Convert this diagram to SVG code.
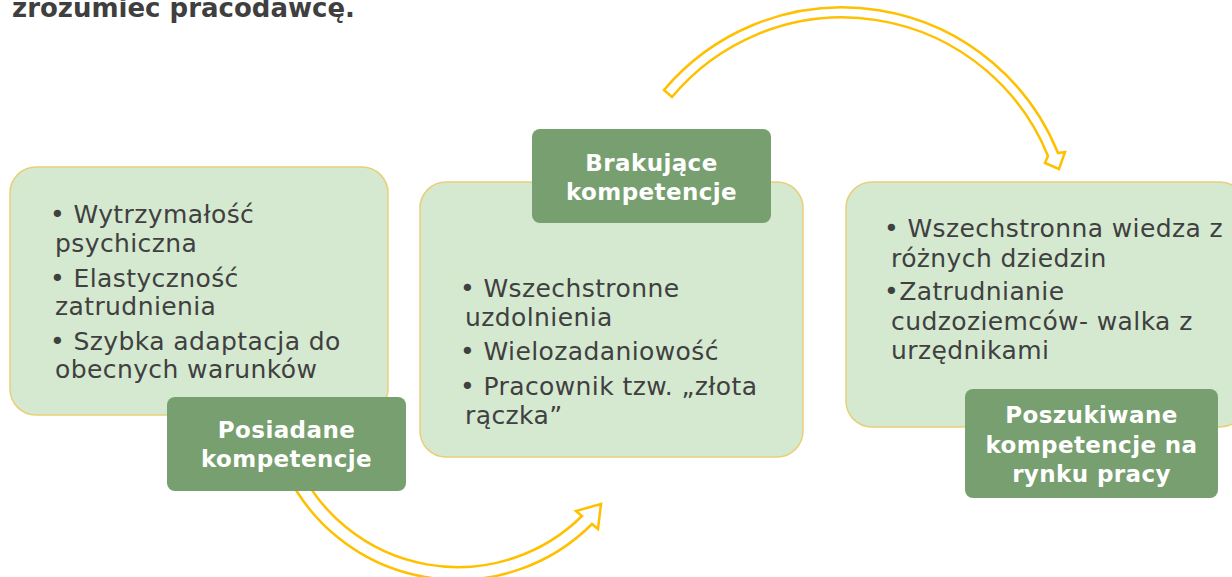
<svg xmlns="http://www.w3.org/2000/svg" width="1232" height="577" viewBox="0 0 1232 577">
<style>
.box{fill:#d5e9d0;stroke:#e8cf78;stroke-width:1.5}
.lab{fill:#789f6f}
.t{font-family:"DejaVu Sans",sans-serif;font-size:25px;fill:#404040;letter-spacing:0.4px}
.lt{font-family:"DejaVu Sans",sans-serif;font-size:23px;font-weight:bold;fill:#ffffff;text-anchor:middle;letter-spacing:0.4px}
.arr{fill:none;stroke:#ffc000;stroke-width:2.5;stroke-linejoin:miter}
</style>
<rect width="1232" height="577" fill="#ffffff"/>
<text x="12" y="17" style="font-family:'DejaVu Sans',sans-serif;font-size:26px;font-weight:bold;fill:#3f3f3f">zrozumieć pracodawcę.</text>
<g id="connectors">
<path class="arr" d="M664,90 A233,233 0 0 1 1058,153 L1065,152 L1059,169 L1045,163 L1048,156 A222,222 0 0 0 672,97 Z"/>
<path class="arr" d="M285.6,470.9 A190,190 0 0 0 592,524 L598,529 L601,504 L576,511 L582,516 A176.5,176.5 0 0 1 297.8,465.2 Z"/>
</g>
<g id="node1">
<rect class="box" x="10" y="167" width="378" height="248" rx="26"/>
<text class="t" x="50" y="223">• Wytrzymałość</text>
<text class="t" x="55" y="252">psychiczna</text>
<text class="t" x="50" y="287">• Elastyczność</text>
<text class="t" x="55" y="315">zatrudnienia</text>
<text class="t" x="50" y="350">• Szybka adaptacja do</text>
<text class="t" x="55" y="378">obecnych warunków</text>
</g>
<g id="label1">
<rect class="lab" x="167" y="397" width="239" height="94" rx="8"/>
<text class="lt" x="286.5" y="438">Posiadane</text>
<text class="lt" x="286.5" y="467">kompetencje</text>
</g>
<g id="node2">
<rect class="box" x="420" y="182" width="383" height="275" rx="26"/>
<text class="t" x="460" y="297">• Wszechstronne</text>
<text class="t" x="465" y="326">uzdolnienia</text>
<text class="t" x="460" y="360">• Wielozadaniowość</text>
<text class="t" x="460" y="395">• Pracownik tzw. „złota</text>
<text class="t" x="465" y="424">rączka”</text>
</g>
<g id="label2">
<rect class="lab" x="532" y="129" width="239" height="94" rx="8"/>
<text class="lt" x="651.5" y="171">Brakujące</text>
<text class="lt" x="651.5" y="200">kompetencje</text>
</g>
<g id="node3">
<rect class="box" x="846" y="182" width="400" height="245" rx="26"/>
<text class="t" x="884" y="237">• Wszechstronna wiedza z</text>
<text class="t" x="891" y="267">różnych dziedzin</text>
<text class="t" x="884" y="300">•Zatrudnianie</text>
<text class="t" x="891" y="330">cudzoziemców- walka z</text>
<text class="t" x="891" y="359">urzędnikami</text>
</g>
<g id="label3">
<rect class="lab" x="965" y="389" width="253" height="109" rx="8"/>
<text class="lt" x="1091.5" y="423">Poszukiwane</text>
<text class="lt" x="1091.5" y="453">kompetencje na</text>
<text class="lt" x="1091.5" y="482">rynku pracy</text>
</g>
</svg>
